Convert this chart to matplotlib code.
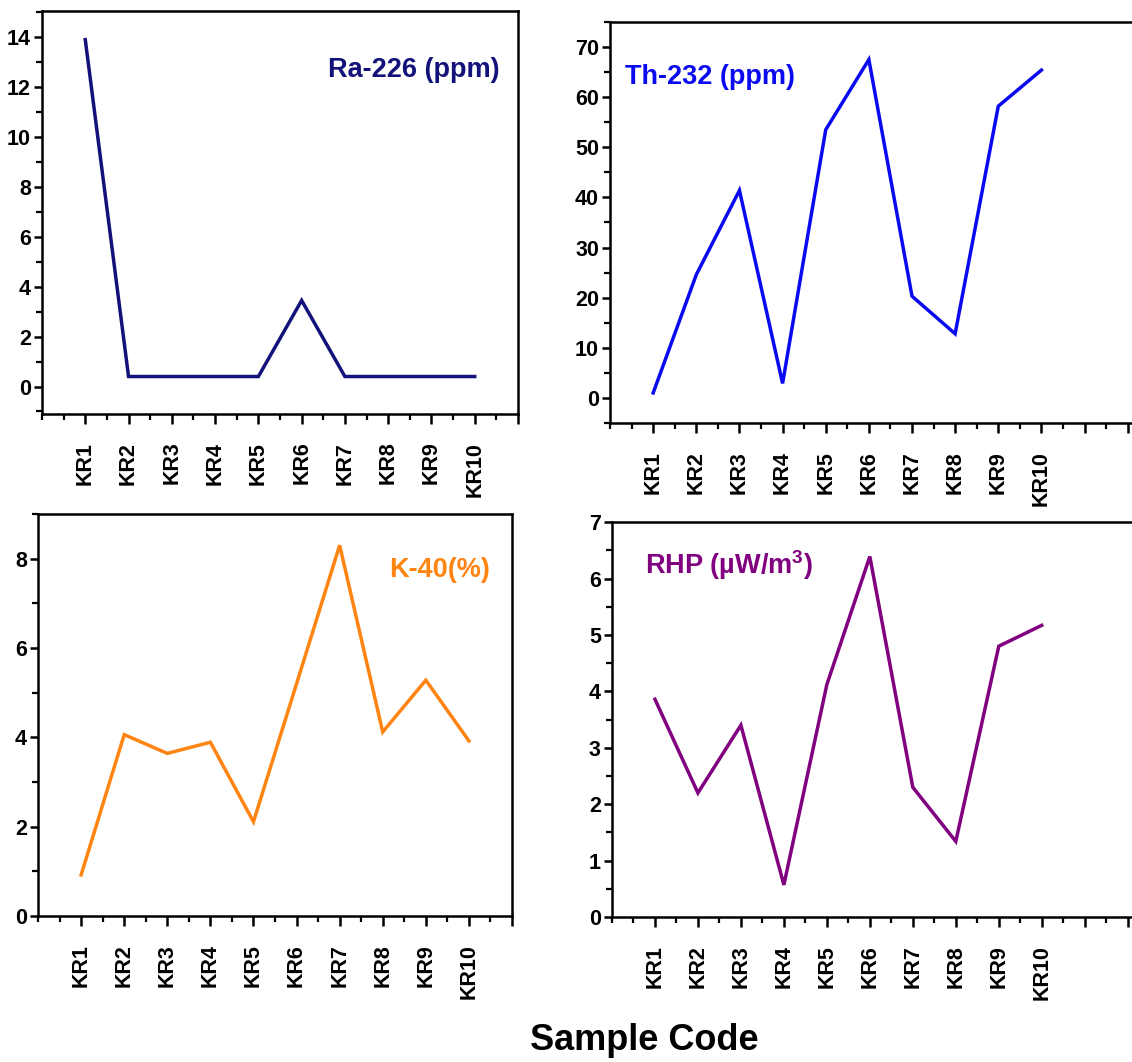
import numpy as np
import matplotlib
matplotlib.use("Agg")
import matplotlib.pyplot as plt
from matplotlib.ticker import MultipleLocator

plt.rcParams['font.family'] = ['Liberation Sans', 'DejaVu Sans']
plt.rcParams['font.weight'] = 'bold'
plt.rcParams['mathtext.fontset'] = 'custom'
plt.rcParams['mathtext.bf'] = 'Liberation Sans:bold'
plt.rcParams['mathtext.rm'] = 'Liberation Sans:bold'

# Sample codes
samples = ['KR1', 'KR2', 'KR3', 'KR4', 'KR5', 'KR6', 'KR7', 'KR8', 'KR9', 'KR10']

# Values
ra226 = [13.9, 0.4, 0.4, 0.4, 0.4, 3.45, 0.4, 0.4, 0.4, 0.4]
th232 = [1.0, 24.6, 41.4, 2.9, 53.5, 67.5, 20.3, 12.8, 58.2, 65.4]
k40 = [0.92, 4.06, 3.64, 3.89, 2.11, 5.2, 8.30, 4.12, 5.28, 3.92]
rhp = [3.86, 2.20, 3.40, 0.57, 4.12, 6.39, 2.30, 1.34, 4.80, 5.17]

fig = plt.figure(figsize=(11.32, 10.62), dpi=100)

panels = [
    # position, values, color, label, ylim, major, minor, xmax, label pos, ha
    ([0.0371, 0.6102, 0.4205, 0.3795], ra226, '#12127a', 'Ra-226 (ppm)',
     (-1.1, 15.05), 2, 1, 10, (0.962, 0.854), 'right'),
    ([0.5389, 0.6017, 0.4611, 0.3776], th232, '#0a0af0', 'Th-232 (ppm)',
     (-5, 75), 10, 5, 11.1, (0.029, 0.863), 'left'),
    ([0.0336, 0.1375, 0.4187, 0.3785], k40, '#ff8412', 'K-40(%)',
     (0, 9), 2, 1, 10, (0.954, 0.861), 'right'),
    ([0.5406, 0.1365, 0.4594, 0.3719], rhp, '#800080', 'RHP (µW/m$^{3}$)',
     (0, 7), 1, 0.5, 11.1, (0.064, 0.891), 'left'),
]

x = np.arange(len(samples))
for pos, vals, col, lab, ylim, maj, mnr, xmax, lpos, ha in panels:
    ax = fig.add_axes(pos)
    ax.plot(x, vals, color=col, lw=2.5, solid_joinstyle='miter')
    ax.set_xlim(-1, xmax)
    nt = int(np.floor(xmax)) + 1
    ax.set_xticks(np.arange(0, nt))
    ax.set_xticklabels(samples + [''] * (nt - len(samples)),
                       rotation=90, fontsize=15.5, fontweight='bold')
    ax.set_ylim(*ylim)
    ax.xaxis.set_minor_locator(MultipleLocator(0.5))
    ax.yaxis.set_major_locator(MultipleLocator(maj))
    ax.yaxis.set_minor_locator(MultipleLocator(mnr))
    for t in ax.get_yticklabels():
        t.set_fontsize(15.5)
        t.set_fontweight('bold')
    ax.tick_params(axis='x', which='major', direction='out', length=7,
                   width=1.8, pad=13)
    ax.tick_params(axis='y', which='major', direction='out', length=6,
                   width=1.8, pad=2)
    ax.tick_params(which='minor', direction='out', length=4, width=1.6)
    for s in ax.spines.values():
        s.set_linewidth(1.8)
    if xmax > 10:
        ax.spines['right'].set_visible(False)
    ax.text(lpos[0], lpos[1], lab, transform=ax.transAxes, color=col,
            fontsize=19.5, fontweight='bold', ha=ha, va='center')

fig.text(0.569, 0.004, 'Sample Code', fontsize=26, fontweight='bold',
         ha='center', va='bottom')

fig.savefig('out.png', dpi=100)
